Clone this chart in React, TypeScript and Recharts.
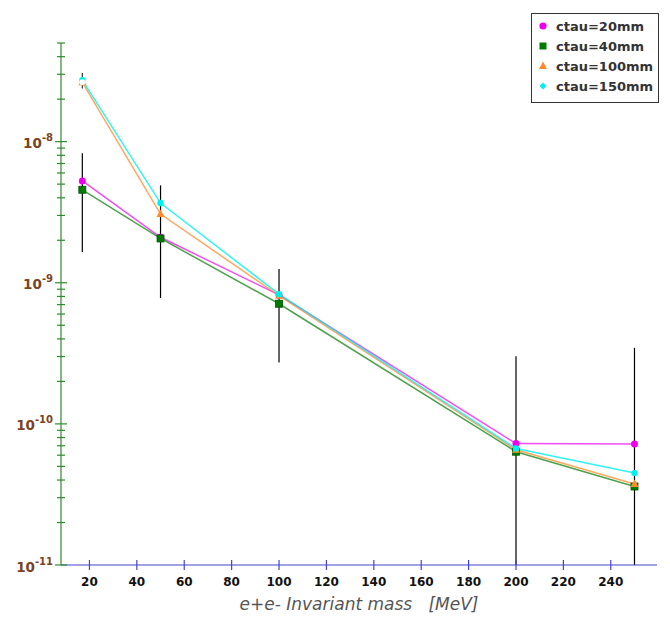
import React from 'react';
import { ComposedChart, Line, XAxis, YAxis, ErrorBar, Legend } from 'recharts';

// ---- data ----
const masses = [17, 50, 100, 200, 250];
const ctau20 = [5.27e-9, 2.1e-9, 8.2e-10, 7.25e-11, 7.2e-11];
const ctau40 = [4.56e-9, 2.06e-9, 7.1e-10, 6.35e-11, 3.6e-11];
const ctau100 = [2.63e-8, 3.07e-9, 8.1e-10, 6.55e-11, 3.75e-11];
const ctau150 = [2.73e-8, 3.67e-9, 8.3e-10, 6.7e-11, 4.48e-11];
// error bar extents (black vertical bars)
const errLow = [1.65e-9, 7.8e-10, 2.72e-10, 1e-11, 1e-11];
const errHigh = [8.28e-9, 4.9e-9, 1.25e-9, 3.02e-10, 3.46e-10];
// small extra bar at the first point (upper curves)
const extraMass = [17];
const extraLow = [2.38e-8];
const extraHigh = [3.07e-8];

const xTicks = [20, 40, 60, 80, 100, 120, 140, 160, 180, 200, 220, 240];
const yDecades = [-11, -10, -9, -8];
const yMinorMult = [2, 3, 4, 5, 6, 7, 8, 9];

const yTicks: number[] = [];
yDecades.forEach((d) => {
  yTicks.push(Math.pow(10, d));
  yMinorMult.forEach((m) => {
    const v = m * Math.pow(10, d);
    if (v <= 5.0001e-8) yTicks.push(v);
  });
});

const data = masses.map((m, i) => ({
  mass: m,
  c20: ctau20[i],
  c40: ctau40[i],
  c100: ctau100[i],
  c150: ctau150[i],
  errCenter: ctau40[i],
  err: [ctau40[i] - errLow[i], errHigh[i] - ctau40[i]],
}));

const extraData = extraMass.map((m, i) => ({
  mass: m,
  errCenter: ctau100[0],
  err: [ctau100[0] - extraLow[i], extraHigh[i] - ctau100[0]],
}));

const FONT = '"DejaVu Sans", sans-serif';
const BROWN = '#7a4424';
const GREEN_AXIS = '#2e8b2e';
const BLUE_AXIS = '#4545cc';

const C_MAG = '#ee00ee';
const C_GRN = '#007a00';
const C_ORG = '#ff8a2a';
const C_CYN = '#00f0f0';

const YTick = (props: any) => {
  const { x, y, payload } = props;
  const v = payload.value as number;
  const exp = Math.round(Math.log10(v));
  const isMajor = Math.abs(v / Math.pow(10, exp) - 1) < 1e-6;
  if (!isMajor) {
    return (
      <g>
        <line x1={x - 4} x2={x + 4} y1={y} y2={y} stroke={GREEN_AXIS} strokeWidth={1.2} />
      </g>
    );
  }
  return (
    <g>
      <line x1={x - 6} x2={x + 6} y1={y} y2={y} stroke={GREEN_AXIS} strokeWidth={1.2} />
      <text x={x - 8} y={y + 6.5} textAnchor="end" fill={BROWN} fontFamily={FONT} fontWeight="bold">
        <tspan fontSize={13.5}>10</tspan>
        <tspan fontSize={10} dy={-7}>{String(exp)}</tspan>
      </text>
    </g>
  );
};

const XTick = (props: any) => {
  const { x, y, payload } = props;
  return (
    <g>
      <line x1={x} x2={x} y1={y - 5} y2={y + 5} stroke={BLUE_AXIS} strokeWidth={1.2} />
      <text x={x} y={y + 21} textAnchor="middle" fill="#111" fontFamily={FONT} fontWeight="bold" fontSize={12}>
        {payload.value}
      </text>
    </g>
  );
};

const circleDot = (color: string, r: number) => (p: any) =>
  p.cx == null ? <g key={p.index} /> : <circle key={p.index} cx={p.cx} cy={p.cy} r={r} fill={color} />;

const squareDot = (p: any) =>
  p.cx == null ? (
    <g key={p.index} />
  ) : (
    <rect key={p.index} x={p.cx - 3.5} y={p.cy - 3.5} width={7} height={7} fill={C_GRN} stroke="#005500" strokeWidth={0.8} />
  );

const triDot = (p: any) =>
  p.cx == null ? (
    <g key={p.index} />
  ) : (
    <polygon
      key={p.index}
      points={`${p.cx},${p.cy - 4.5} ${p.cx - 4},${p.cy + 3} ${p.cx + 4},${p.cy + 3}`}
      fill={C_ORG}
    />
  );

const legendItems = [
  { label: 'ctau=20mm', kind: 'circle', color: C_MAG },
  { label: 'ctau=40mm', kind: 'square', color: C_GRN },
  { label: 'ctau=100mm', kind: 'tri', color: C_ORG },
  { label: 'ctau=150mm', kind: 'diamond', color: C_CYN },
];

const LegendBox = () => (
  <div
    style={{
      border: '1px solid #333',
      background: '#fff',
      width: 126,
      height: 86,
      boxSizing: 'content-box',
      paddingTop: 2,
      fontFamily: FONT,
    }}
  >
    {legendItems.map((it) => (
      <div key={it.label} style={{ display: 'flex', alignItems: 'center', height: 20 }}>
        <svg width={20} height={20} style={{ marginLeft: 1 }}>
          {it.kind === 'circle' && <circle cx={10} cy={10} r={3.6} fill={it.color} />}
          {it.kind === 'square' && <rect x={6.5} y={6.5} width={7} height={7} fill={it.color} />}
          {it.kind === 'tri' && <polygon points="10,5.5 6,13 14,13" fill={it.color} />}
          {it.kind === 'diamond' && <polygon points="10,6.5 13.5,10 10,13.5 6.5,10" fill={it.color} />}
        </svg>
        <span style={{ marginLeft: 3, fontSize: 13, fontWeight: 'bold', color: '#333', whiteSpace: 'nowrap' }}>
          {it.label}
        </span>
      </div>
    ))}
  </div>
);

const XLabel = (props: any) => {
  const { viewBox } = props;
  const cx = viewBox.x + viewBox.width / 2;
  const y = viewBox.y + 45;
  return (
    <text
      x={cx}
      y={y}
      textAnchor="middle"
      fill="#555"
      fontFamily={FONT}
      fontStyle="italic"
      fontSize={17}
      style={{ whiteSpace: 'pre' }}
    >
      {'e+e- Invariant mass   [MeV]'}
    </text>
  );
};

export default function App() {
  return (
    <div style={{ width: 662, height: 615, background: '#fff' }}>
      <ComposedChart width={662} height={615} data={data} margin={{ top: 35, right: 13, bottom: 0, left: 0 }}>
        <XAxis
          dataKey="mass"
          type="number"
          domain={[8, 259.5]}
          allowDataOverflow
          ticks={xTicks}
          interval={0}
          height={58}
          tickSize={0}
          tickMargin={0}
          tickLine={false}
          axisLine={{ stroke: BLUE_AXIS, strokeWidth: 1.2 }}
          tick={<XTick />}
          label={<XLabel />}
        />
        <YAxis
          type="number"
          scale="log"
          domain={[1e-11, 5e-8]}
          allowDataOverflow
          ticks={yTicks}
          interval={0}
          width={53}
          tickSize={0}
          tickMargin={0}
          tickLine={false}
          axisLine={{ stroke: GREEN_AXIS, strokeWidth: 1.2 }}
          tick={<YTick />}
        />
        <Legend
          layout="vertical"
          align="center"
          verticalAlign="middle"
          wrapperStyle={{ top: 5, left: 523, width: 128, height: 90 }}
          content={() => <LegendBox />}
        />
        <Line
          dataKey="c20"
          type="linear"
          stroke={C_MAG}
          strokeOpacity={0.7}
          strokeWidth={1.5}
          dot={circleDot(C_MAG, 3.5)}
          activeDot={false}
          isAnimationActive={false}
        />
        <Line
          dataKey="c40"
          type="linear"
          stroke={C_GRN}
          strokeOpacity={0.7}
          strokeWidth={1.5}
          dot={squareDot}
          activeDot={false}
          isAnimationActive={false}
        />
        <Line
          dataKey="c100"
          type="linear"
          stroke={C_ORG}
          strokeOpacity={0.75}
          strokeWidth={1.5}
          dot={triDot}
          activeDot={false}
          isAnimationActive={false}
        />
        <Line
          dataKey="c150"
          type="linear"
          stroke={C_CYN}
          strokeOpacity={0.8}
          strokeWidth={1.5}
          dot={circleDot(C_CYN, 3.2)}
          activeDot={false}
          isAnimationActive={false}
        />
        <Line
          dataKey="errCenter"
          type="linear"
          stroke="none"
          dot={false}
          activeDot={false}
          legendType="none"
          isAnimationActive={false}
        >
          <ErrorBar dataKey="err" width={0} stroke="#000" strokeWidth={1.2} direction="y" isAnimationActive={false} />
        </Line>
        <Line
          data={extraData}
          dataKey="errCenter"
          type="linear"
          stroke="none"
          dot={false}
          activeDot={false}
          legendType="none"
          isAnimationActive={false}
        >
          <ErrorBar dataKey="err" width={0} stroke="#333" strokeWidth={1.2} direction="y" isAnimationActive={false} />
        </Line>
      </ComposedChart>
    </div>
  );
}
